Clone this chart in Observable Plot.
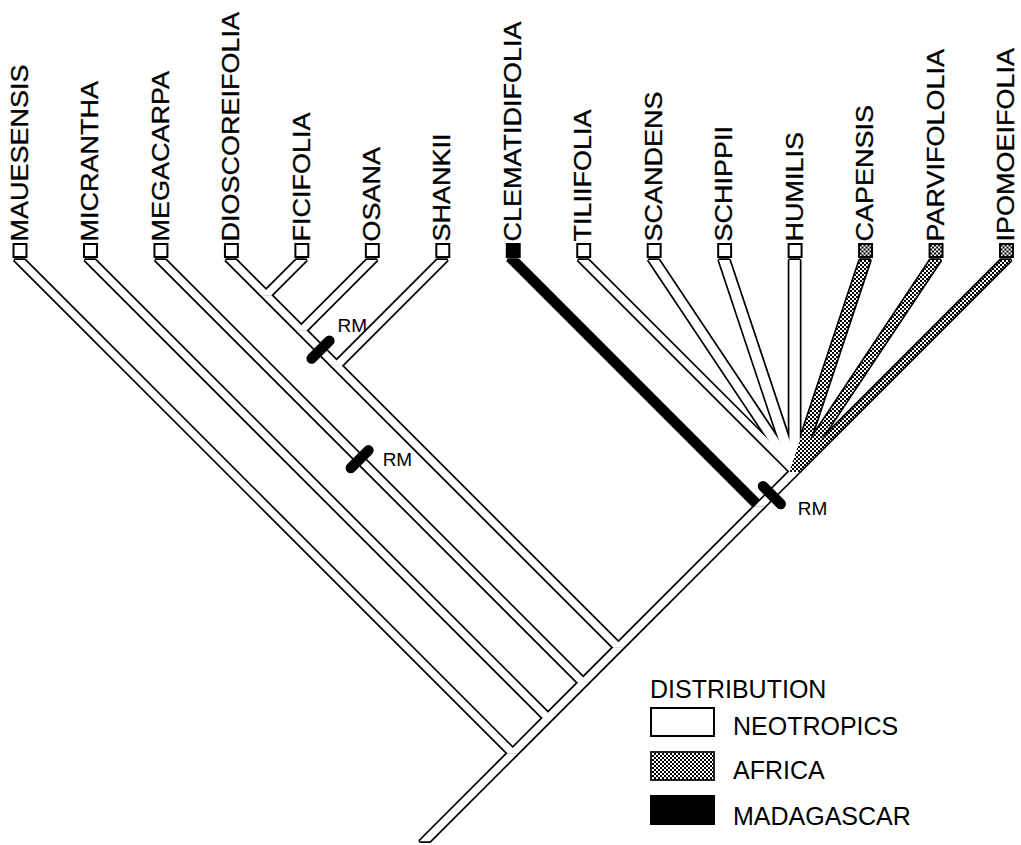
<!DOCTYPE html>
<html>
<head>
<meta charset="utf-8">
<script src="https://cdn.jsdelivr.net/npm/d3@7"></script>
<script src="https://cdn.jsdelivr.net/npm/@observablehq/plot@0.6"></script>
<style>
html, body { margin: 0; padding: 0; background: #fff; }
#wrap { position: relative; width: 1021px; height: 845px; overflow: hidden;
        font-family: "Liberation Sans", Arial, Helvetica, sans-serif; }
#wrap svg { display: block; }
.lg { position: absolute; font-size: 25px; line-height: 25px; color: #000; white-space: nowrap; }
.box { position: absolute; box-sizing: border-box; width: 65px; height: 30px; border: 2px solid #000; }
.box.neo { background: #fff; }
.box.afr { background-color: #fff;
           background-image: repeating-conic-gradient(#000 0 25%, #fff 0 50%);
           background-size: 4px 4px; border-color: #222; }
.box.mad { background: #000; }
</style>
</head>
<body>
<div id="wrap"></div>
<script>
// ---------------- data ----------------
const tips = [
  "MAUESENSIS", "MICRANTHA", "MEGACARPA", "DIOSCOREIFOLIA", "FICIFOLIA",
  "OSANA", "SHANKII", "CLEMATIDIFOLIA", "TILIIFOLIA", "SCANDENS",
  "SCHIPPII", "HUMILIS", "CAPENSIS", "PARVIFOLOLIA", "IPOMOEIFOLIA"
];
const regions = [
  "Neotropics", "Neotropics", "Neotropics", "Neotropics", "Neotropics",
  "Neotropics", "Neotropics", "Madagascar", "Neotropics", "Neotropics",
  "Neotropics", "Neotropics", "Africa", "Africa", "Africa"
];
// cladogram topology (nested lists; the last list is a polytomy)
const topology =
  ["MAUESENSIS",
    ["MICRANTHA",
      ["MEGACARPA",
        [[[["DIOSCOREIFOLIA", "FICIFOLIA"], "OSANA"], "SHANKII"],
         ["CLEMATIDIFOLIA",
           ["TILIIFOLIA", "SCANDENS", "SCHIPPII", "HUMILIS", "CAPENSIS", "PARVIFOLOLIA", "IPOMOEIFOLIA"]]]]]];
// "RM" character changes: branch = clade from..to, t = fraction along the branch from its top
const rmMarkers = [
  { from: "DIOSCOREIFOLIA", to: "OSANA", t: 0.53, label: "RM" },
  { from: "MEGACARPA", to: "MEGACARPA", t: 0.47, label: "RM" },
  { from: "TILIIFOLIA", to: "IPOMOEIFOLIA", t: 0.66, label: "RM" }
];
const legendTitle = "DISTRIBUTION";
const legendLabels = ["NEOTROPICS", "AFRICA", "MADAGASCAR"];
const legendRegions = ["Neotropics", "Africa", "Madagascar"];
const rootStem = 1.25;

// ---------------- layout ----------------
const W = 1021, H = 845, mL = 19.5, mR = 15, mT = 260;
const unit = (W - mL - mR) / (tips.length - 1);
const index = new Map(tips.map((t, i) => [t, i]));
const branches = [];
function build(n) {
  if (typeof n === "string") {
    const i = index.get(n);
    return { x: i, y: 0, L: i, R: i, region: regions[i] };
  }
  const kids = n.map(build);
  const L = d3.min(kids, k => k.L), R = d3.max(kids, k => k.R);
  const node = { x: (L + R) / 2, y: (R - L) / 2, L, R, region: "Neotropics" };
  for (const k of kids) branches.push({ id: tips[k.L] + "|" + tips[k.R], child: k, parent: node, region: k.region });
  return node;
}
const root = build(topology);
branches.push({ id: "root", child: root, parent: { x: root.x - rootStem, y: root.y + rootStem }, region: "Neotropics" });
const yMax = root.y + rootStem;
const mB = H - mT - yMax * unit;

const hw = 5.2 / unit;
const rows = branches.flatMap(b => [
  { id: b.id, region: b.region, y: b.child.y, x1: b.child.x - hw, x2: b.child.x + hw },
  { id: b.id, region: b.region, y: b.parent.y, x1: b.parent.x - hw, x2: b.parent.x + hw }
]);
const tipRows = tips.map((name, i) => ({ name, i, y: 0, region: regions[i] }));

const rmLabelOffsets = [[17, -24], [23, 1], [26, 14]]; // px
const barHalf = 12.5 / unit;
const rmRows = rmMarkers.map((m, k) => {
  const b = branches.find(b => b.id === m.from + "|" + m.to);
  const dx = b.parent.x - b.child.x, dy = b.parent.y - b.child.y;
  const len = Math.hypot(dx, dy);
  const ux = dx / len, uy = dy / len;
  const px = -uy, py = ux;
  const cx = b.child.x + m.t * dx, cy = b.child.y + m.t * dy;
  return {
    label: m.label,
    x1: cx + px * barHalf, y1: cy + py * barHalf,
    x2: cx - px * barHalf, y2: cy - py * barHalf,
    lx: cx + rmLabelOffsets[k][0] / unit, ly: cy + rmLabelOffsets[k][1] / unit
  };
});

const font = "Liberation Sans, Arial, Helvetica, sans-serif";
const area = (data, fill, extra = {}) =>
  Plot.areaX(data, { y: "y", x1: "x1", x2: "x2", z: "id", curve: "linear", fill, ...extra });

const svg = Plot.plot({
  width: W, height: H,
  marginLeft: mL, marginRight: mR, marginTop: mT, marginBottom: mB,
  x: { domain: [0, tips.length - 1], axis: null },
  y: { domain: [0, yMax], axis: null, reverse: true },
  style: { fontFamily: font, background: "#fff", overflow: "visible" },
  marks: [
    area(rows, "#000", { stroke: "#000", strokeWidth: 3.4, strokeLinejoin: "miter" }),
    area(rows.filter(r => r.region === "Neotropics"), "#fff"),
    area(rows.filter(r => r.region === "Africa"), "url(#stipple)"),
    Plot.dot(tipRows.filter(d => d.region === "Neotropics"),
      { x: "i", y: "y", dy: -10, symbol: "square", r: 7.3, fill: "#fff", stroke: "#000", strokeWidth: 2 }),
    Plot.dot(tipRows.filter(d => d.region === "Africa"),
      { x: "i", y: "y", dy: -10, symbol: "square", r: 7.3, fill: "url(#stipple)", stroke: "#000", strokeWidth: 2 }),
    Plot.dot(tipRows.filter(d => d.region === "Madagascar"),
      { x: "i", y: "y", dy: -10, symbol: "square", r: 7.3, fill: "#000", stroke: "#000", strokeWidth: 2 }),
    Plot.text(tipRows, {
      x: "i", y: "y", text: "name", rotate: -90, textAnchor: "start", lineAnchor: "middle",
      dy: -19, fontSize: 24, fontFamily: font, fill: "#000", stroke: "#000", strokeWidth: 0.3
    }),
    Plot.link(rmRows, { x1: "x1", y1: "y1", x2: "x2", y2: "y2", stroke: "#000", strokeWidth: 10.5, strokeLinecap: "round" }),
    Plot.text(rmRows, {
      x: "lx", y: "ly", text: "label", textAnchor: "start", lineAnchor: "middle",
      fontSize: 19, fontFamily: font, fill: "#000"
    })
  ]
});

// stipple pattern for the African lineages
const defs = document.createElementNS("http://www.w3.org/2000/svg", "defs");
defs.innerHTML = '<pattern id="stipple" patternUnits="userSpaceOnUse" width="4" height="4">' +
  '<rect width="4" height="4" fill="#fff"/><rect width="2" height="2" fill="#000"/>' +
  '<rect x="2" y="2" width="2" height="2" fill="#000"/></pattern>';
svg.prepend(defs);

// widen the rotated tip labels along their reading direction, like the original lettering
const tipSet = new Set(tips);
svg.querySelectorAll("text").forEach(t => {
  if (!tipSet.has(t.textContent)) return;
  const tr = t.getAttribute("transform") || "";
  t.setAttribute("transform", tr + " scale(1.125,1)");
});

const wrap = document.getElementById("wrap");
wrap.appendChild(svg);

// legend (inside the plotting area, bottom right)
const cls = { Neotropics: "neo", Africa: "afr", Madagascar: "mad" };
const title = document.createElement("div");
title.className = "lg"; title.textContent = legendTitle;
title.style.left = "650px"; title.style.top = "677px";
wrap.appendChild(title);
legendLabels.forEach((lab, k) => {
  const box = document.createElement("div");
  box.className = "box " + cls[legendRegions[k]];
  box.style.left = "650px"; box.style.top = (707 + 44 * k) + "px";
  wrap.appendChild(box);
  const t = document.createElement("div");
  t.className = "lg"; t.textContent = lab;
  t.style.left = "733px"; t.style.top = (714 + 44 * k + (k === 2 ? 2 : 0)) + "px";
  wrap.appendChild(t);
});
</script>
</body>
</html>
